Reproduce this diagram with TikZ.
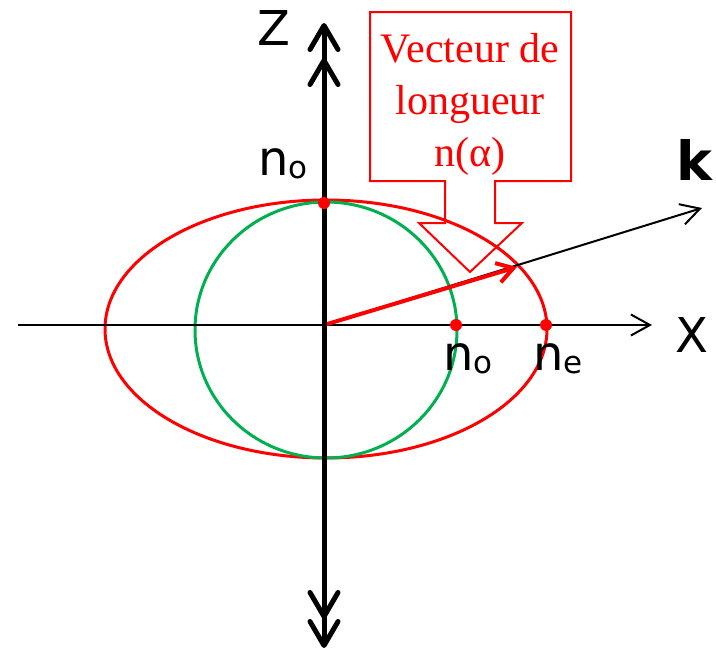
\documentclass[tikz,border=0pt]{standalone}
\usepackage{fontspec}
\usepackage{xcolor}
\usepackage{tikz}
\usetikzlibrary{arrows.meta}
\newfontfamily\axisfont{DejaVu Sans}
\newfontfamily\notefont{Liberation Serif}
\definecolor{ored}{RGB}{255,0,0}
\definecolor{ogreen}{RGB}{0,176,80}
\newcommand\lowsub[1]{\raisebox{-3pt}{\fontsize{31}{31}\selectfont #1}}

\begin{document}
\begin{tikzpicture}[
    x=1pt, y=-1pt,
    zaxis/.style={line width=5pt, line cap=round,
                  {Straight Barb[length=24pt, width=28pt, round, sep=6pt]
                   Straight Barb[length=24pt, width=28pt, round]}-{Straight Barb[length=24pt, width=28pt, round, sep=6pt]
                   Straight Barb[length=24pt, width=28pt, round]}},
    thinarr/.style={-{Straight Barb[length=19pt, width=21pt]}, line width=2pt},
    nvecarr/.style={-{Straight Barb[length=16pt, width=20pt]}, line width=4pt, draw=ored},
    dot/.style={circle, fill=ored, inner sep=0pt, minimum size=12pt},
    lbl/.style={font=\axisfont\fontsize{48}{48}\selectfont, inner sep=0pt, anchor=base west},
    note/.style={text=ored, font=\notefont\fontsize{42}{52}\selectfont, align=center, inner sep=0pt},
    callout/.style={draw=ored, line width=2pt}
  ]
  \useasboundingbox (0,0) rectangle (716,656);

  %% ── key points ──────────────────────────────────────────────────────
  \coordinate (O)    at (324,325);
  \coordinate (zbot) at (324,654);
  \coordinate (ztop) at (324,23);
  \coordinate (xbeg) at (18,325);
  \coordinate (xend) at (652,325);
  \coordinate (kend) at (702,208);
  \coordinate (nvec) at (517,267);

  %% ── index surfaces ──────────────────────────────────────────────────
  \draw[ored, line width=3pt]    (326,329) ellipse [x radius=221, y radius=129];
  \draw[ogreen, line width=3pt]  (326,330) ellipse [x radius=131, y radius=128];

  %% ── axes and wave vector ────────────────────────────────────────────
  \draw[thinarr] (xbeg) -- (xend);
  \draw[thinarr] (O) -- (kend);
  \draw[nvecarr] (O) -- (nvec);
  \draw[zaxis] (zbot) -- (ztop);

  %% ── points and labels ───────────────────────────────────────────────
  \node[dot] (noz) at (324,203) {};
  \node[dot] (nox) at (456,325) {};
  \node[dot] (nex) at (546,325) {};

  \node[lbl] (zlab)  at (257,45)  {Z};
  \node[lbl] (xlab)  at (675,352) {X};
  \node[lbl, font=\axisfont\bfseries\fontsize{54}{54}\selectfont]
             (klab)  at (676,180) {k};
  \node[lbl] (nolab) at (258,175) {n\lowsub{o}};
  \node[lbl] (nxlab) at (443,370) {n\lowsub{o}};
  \node[lbl] (nelab) at (533,370) {n\lowsub{e}};

  %% ── callout ─────────────────────────────────────────────────────────
  \draw[callout] (370,12) -- (571,12) -- (571,181) -- (495,181) -- (495,223)
                 -- (522,223) -- (470,272) -- (419,223) -- (445,223)
                 -- (445,181) -- (370,181) -- cycle;
  \node[note] (notetxt) at (470,104) {Vecteur de\\longueur\\n(α)};

\end{tikzpicture}
\end{document}
